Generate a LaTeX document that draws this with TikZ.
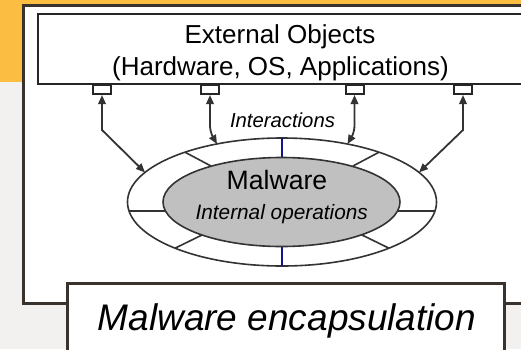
\documentclass[tikz,border=0pt]{standalone}
\usepackage{fontspec}
\setmainfont{Liberation Sans}
\usetikzlibrary{shapes.geometric,arrows.meta}
\definecolor{bgorange}{RGB}{252,190,66}
\definecolor{bggray}{RGB}{242,241,239}
\definecolor{framec}{RGB}{58,50,44}
\definecolor{linec}{RGB}{51,51,51}
\definecolor{divblue}{RGB}{20,20,140}
\definecolor{malgray}{RGB}{192,192,192}
\tikzset{
  frameline/.style={draw=framec, line width=3pt},
  boxline/.style={draw=black!85, line width=2pt},
  port/.style={draw=black!85, line width=2pt, fill=white, minimum width=18pt, minimum height=9pt, inner sep=0pt},
  interarrow/.style={draw=linec, line width=1.8pt, {Triangle[length=9pt,width=7.5pt]}-{Triangle[length=9pt,width=7.5pt]}},
  divider/.style={draw=linec, line width=1.6pt},
  bluediv/.style={draw=divblue, line width=1.4pt},
  lbl/.style={inner sep=0pt, anchor=base, text=black}
}
\begin{document}
\begin{tikzpicture}[x=1pt,y=-1pt]
\useasboundingbox (0,0) rectangle (521,349);
\clip (0,0) rectangle (521,349);
% backgrounds
\fill[bggray] (0,0) rectangle (521,349);
\fill[bgorange] (0,0) rectangle (521,5);
\fill[bgorange] (0,0) rectangle (23,82);
% outer frame
\fill[white] (23.5,5.5) rectangle (540,303.5);
\draw[frameline] (67,303.5) -- (23.5,303.5) -- (23.5,5.5) -- (540,5.5);
\draw[frameline] (504,303.5) -- (540,303.5);
% external objects box
\draw[boxline, fill=white] (38,14) rectangle (540,84);
\node[lbl, font=\fontsize{26}{31}\selectfont] (ext1) at (280,43) {External Objects};
\node[lbl, font=\fontsize{26}{31}\selectfont] (ext2) at (280.5,75.5) {(Hardware, OS, Applications)};
% ports
\node[port, anchor=north] (p1) at (102,84) {};
\node[port, anchor=north] (p2) at (210,84) {};
\node[port, anchor=north] (p3) at (354.5,84) {};
\node[port, anchor=north] (p4) at (463,84) {};
% ellipses
\node[ellipse, draw=linec, line width=1.6pt, fill=white, minimum width=309pt, minimum height=128pt, inner sep=0pt] (outer) at (282,202) {};
\draw[divider] (185,152.2) -- (211,166);
\draw[divider] (379,152.2) -- (353,166);
\draw[divider] (129,211) -- (168,211);
\draw[divider] (435,211) -- (396,211);
\draw[divider] (175,248.2) -- (202,235);
\draw[divider] (389,248.2) -- (362,235);
\draw[bluediv] (282,138) -- (282,158);
\draw[bluediv] (282,246) -- (282,266);
\node[ellipse, draw=linec, line width=1.6pt, fill=malgray, minimum width=237pt, minimum height=89pt, inner sep=0pt] (inner) at (281.5,202) {};
\node[lbl, font=\fontsize{26.6}{30}\selectfont] (mal) at (277,189.3) {Malware};
\node[lbl, font=\fontsize{20.8}{24}\selectfont\itshape] (intop) at (281.7,219) {Internal operations};
% interactions
\coordinate (e1) at (145,172.4);
\coordinate (e2) at (217,144);
\coordinate (e3) at (347.5,144);
\coordinate (e4) at (419,172.4);
\draw[interarrow] (p1.south) -- (102,130) -- (e1);
\draw[interarrow, rounded corners=6pt] (p2.south) -- (210,132) -- (e2);
\draw[interarrow, rounded corners=6pt] (p3.south) -- (354.5,132) -- (e3);
\draw[interarrow] (p4.south) -- (463,130) -- (e4);
\node[lbl, font=\fontsize{20.3}{24}\selectfont\itshape] (inter) at (282.5,127) {Interactions};
% caption
\draw[frameline, fill=white] (67,360) -- (67,283) -- (504,283) -- (504,360);
\node[lbl, font=\fontsize{37}{44}\selectfont\itshape] (cap) at (287,330) {Malware encapsulation};
\end{tikzpicture}
\end{document}
